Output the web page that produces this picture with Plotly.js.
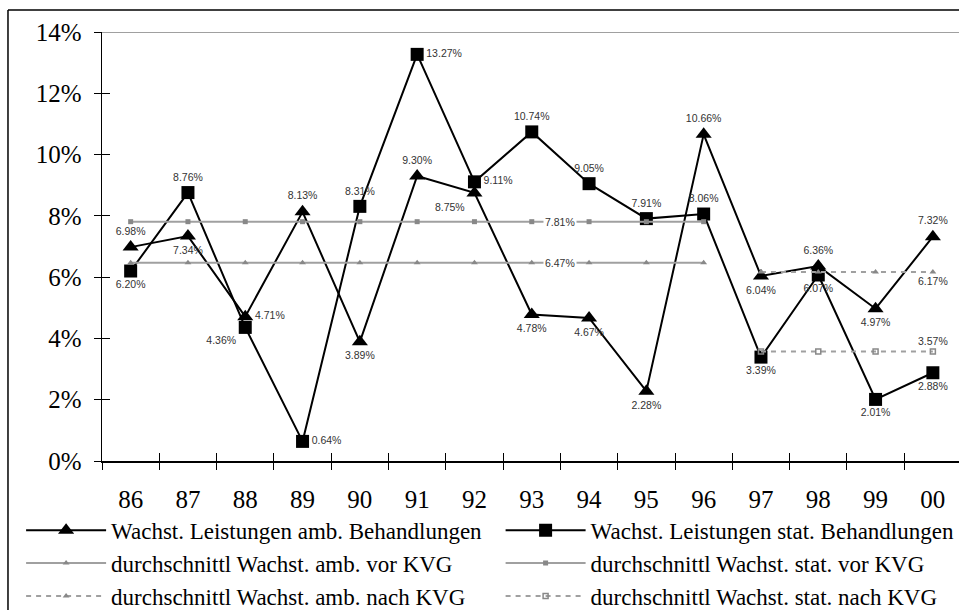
<!DOCTYPE html>
<html>
<head>
<meta charset="utf-8">
<script src="https://cdn.plot.ly/plotly-3.0.1.min.js"></script>
<style>html,body{margin:0;padding:0;background:#fff;}#chart{width:959px;height:610px;}</style>
</head>
<body>
<div id="chart"></div>
<script>
// ---- data ----
const years = ['86','87','88','89','90','91','92','93','94','95','96','97','98','99','00'];
const ambGrowth  = [6.98, 7.34, 4.71, 8.13, 3.89, 9.30, 8.75, 4.78, 4.67, 2.28, 10.66, 6.04, 6.36, 4.97, 7.32];
const statGrowth = [6.20, 8.76, 4.36, 0.64, 8.31, 13.27, 9.11, 10.74, 9.05, 7.91, 8.06, 3.39, 6.07, 2.01, 2.88];
const ambAvgBefore  = [6.47, 6.47, 6.47, 6.47, 6.47, 6.47, 6.47, 6.47, 6.47, 6.47, 6.47, null, null, null, null];
const statAvgBefore = [7.81, 7.81, 7.81, 7.81, 7.81, 7.81, 7.81, 7.81, 7.81, 7.81, 7.81, null, null, null, null];
const ambAvgAfter   = [null, null, null, null, null, null, null, null, null, null, null, 6.17, 6.17, 6.17, 6.17];
const statAvgAfter  = [null, null, null, null, null, null, null, null, null, null, null, 3.57, 3.57, 3.57, 3.57];
const seriesNames = [
  'Wachst. Leistungen amb. Behandlungen',
  'Wachst. Leistungen stat. Behandlungen',
  'durchschnittl Wachst. amb. vor KVG',
  'durchschnittl Wachst. stat. vor KVG',
  'durchschnittl Wachst. amb. nach KVG',
  'durchschnittl Wachst. stat. nach KVG'
];
const yTicks = [0, 2, 4, 6, 8, 10, 12, 14];

// ---- styling ----
const serif = 'Liberation Serif, Times New Roman, serif';
const sans = 'Liberation Sans, Arial, sans-serif';
const gray = '#a0a0a0';
const labelFont = {family: sans, size: 10.5, color: '#333'};

const ambPos = ['top center','bottom center','middle right','top center','bottom center','top center','bottom left',
  'bottom center','bottom center','bottom center','top center','bottom center','top center','bottom center','top center'];
const statPos = ['bottom center','top center','bottom left','middle right','top center','middle right','middle right',
  'top center','top center','top center','top center','bottom center','bottom center','bottom center','bottom center'];

const pct = v => v == null ? '' : v.toFixed(2) + '%';
const lastOnly = arr => arr.map((v, i) => (i === arr.length - 1 && v != null) ? pct(v) : '');

const traces = [
  {x: years, y: ambGrowth, name: seriesNames[0], legend: 'legend', mode: 'lines+markers+text', type: 'scatter',
   line: {color: '#000', width: 2}, marker: {symbol: 'triangle-up', size: 14, color: '#000'},
   text: ambGrowth.map(pct), textposition: ambPos, textfont: labelFont, cliponaxis: false},
  {x: years, y: statGrowth, name: seriesNames[1], legend: 'legend2', mode: 'lines+markers+text', type: 'scatter',
   line: {color: '#000', width: 2}, marker: {symbol: 'square', size: 13, color: '#000'},
   text: statGrowth.map(pct), textposition: statPos, textfont: labelFont, cliponaxis: false},
  {x: years, y: ambAvgBefore, name: seriesNames[2], legend: 'legend', mode: 'lines+markers', type: 'scatter',
   line: {color: gray, width: 2}, marker: {symbol: 'triangle-up', size: 6, color: '#888'}},
  {x: years, y: statAvgBefore, name: seriesNames[3], legend: 'legend2', mode: 'lines+markers', type: 'scatter',
   line: {color: gray, width: 2}, marker: {symbol: 'square', size: 5, color: '#888'}},
  {x: years, y: ambAvgAfter, name: seriesNames[4], legend: 'legend', mode: 'lines+markers+text', type: 'scatter',
   line: {color: gray, width: 2, dash: '5px,5px'}, marker: {symbol: 'triangle-up', size: 6, color: '#888'},
   text: lastOnly(ambAvgAfter), textposition: 'bottom center', textfont: labelFont, cliponaxis: false},
  {x: years, y: statAvgAfter, name: seriesNames[5], legend: 'legend2', mode: 'lines+markers+text', type: 'scatter',
   line: {color: gray, width: 2, dash: '5px,5px'},
   marker: {symbol: 'square-open', size: 5, color: '#888', line: {width: 1.5, color: '#888'}},
   text: lastOnly(statAvgAfter), textposition: 'top center', textfont: labelFont, cliponaxis: false}
];

const xRange = [-0.5, 14.456];
const boundaries = years.map((c, i) => i - 0.5).concat([years.length - 0.5]);

// avg labels placed between 93 and 94 on the average lines
const midIdx = years.indexOf('93') + 0.5;
const annotations = [
  {x: midIdx, y: statAvgBefore[0], xref: 'x', yref: 'y', text: pct(statAvgBefore[0]), showarrow: false,
   font: labelFont, bgcolor: '#fff'},
  {x: midIdx, y: ambAvgBefore[0], xref: 'x', yref: 'y', text: pct(ambAvgBefore[0]), showarrow: false,
   font: labelFont, bgcolor: '#fff'}
];

const legendBase = {
  orientation: 'v', xref: 'container', yref: 'container', xanchor: 'left', yanchor: 'top',
  itemwidth: 80, traceorder: 'normal', tracegroupgap: 0,
  font: {family: serif, size: 23, color: '#000'}, bgcolor: 'rgba(0,0,0,0)', borderwidth: 0,
  itemclick: false, itemdoubleclick: false
};

const layout = {
  width: 959, height: 610,
  margin: {l: 102, r: 0, t: 32, b: 149, autoexpand: false},
  paper_bgcolor: '#fff', plot_bgcolor: '#fff',
  showlegend: true,
  xaxis: {
    type: 'category', range: xRange, tickson: 'boundaries', ticks: 'outside', ticklen: 7, tickwidth: 1,
    tickcolor: '#000', showline: true, linecolor: '#000', linewidth: 1.5, showgrid: false, zeroline: false,
    tickfont: {family: serif, size: 25, color: '#000'}, ticklabelstandoff: 15, fixedrange: true, automargin: false
  },
  yaxis: {
    range: [0, 14], tickvals: yTicks, ticktext: yTicks.map(v => v + '%'), ticks: 'outside', ticklen: 7,
    tickcolor: '#000', showline: true, linecolor: '#000', linewidth: 1.5, showgrid: false, zeroline: false,
    tickfont: {family: serif, size: 25, color: '#000'}, ticklabelstandoff: 7, fixedrange: true, automargin: false
  },
  xaxis2: {overlaying: 'x', range: xRange, tickvals: boundaries, ticks: 'inside', ticklen: 8, tickcolor: '#000',
    showticklabels: false, showline: false, showgrid: false, zeroline: false, fixedrange: true},
  yaxis2: {overlaying: 'y', range: [0, 14], tickvals: yTicks, ticks: 'inside', ticklen: 8, tickcolor: '#000',
    showticklabels: false, showline: false, showgrid: false, zeroline: false, fixedrange: true},
  legend: Object.assign({}, legendBase, {x: 0.022, y: 0.166}),
  legend2: Object.assign({}, legendBase, {x: 0.522, y: 0.166}),
  annotations: annotations,
  shapes: [
    // plot area top border (gray)
    {type: 'line', xref: 'paper', yref: 'y', x0: 0, x1: 1.01, y0: 14, y1: 14, line: {color: gray, width: 2}},
    // outer chart frame (top and left)
    {type: 'line', xref: 'paper', yref: 'paper', x0: -0.1097, x1: 1.01, y0: 1.0513, y1: 1.0513, line: {color: '#000', width: 1.5}},
    {type: 'line', xref: 'paper', yref: 'paper', x0: -0.1097, x1: -0.1097, y0: 1.0513, y1: -0.36, line: {color: '#000', width: 1.5}}
  ]
};

// invisible helper trace so the overlay axes (crossing tick marks) render
traces.push({x: [0], y: [0], xaxis: 'x2', yaxis: 'y2', mode: 'markers', marker: {opacity: 0},
  showlegend: false, hoverinfo: 'skip'});

Plotly.newPlot('chart', traces, layout, {staticPlot: true, displayModeBar: false});
</script>
</body>
</html>
